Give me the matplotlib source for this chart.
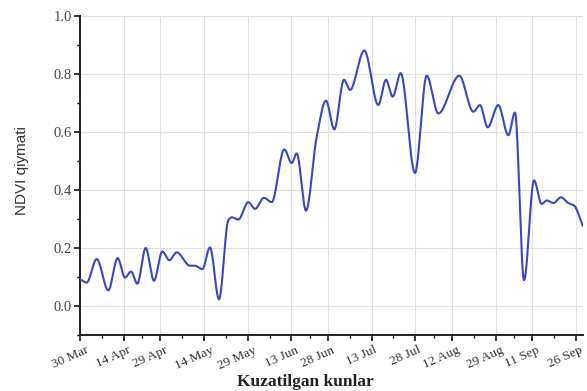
import numpy as np
import matplotlib
matplotlib.use("Agg")
import matplotlib.pyplot as plt
import matplotlib.transforms as mtransforms
from matplotlib.ticker import FixedLocator

obs_pos = [0.0, 0.92, 2.29, 3.88, 5.17, 6.17, 7.0, 7.86, 9.01, 10.15,
           11.29, 12.25, 13.26, 15.09, 15.77, 16.78, 17.83, 19.07, 20.34, 20.81,
           21.71, 23.09, 24.01, 25.24, 26.3, 28.02, 29.04, 29.73, 31.0, 32.47,
           33.74, 34.88, 36.21, 37.04, 39.0, 40.92, 41.98, 42.89, 43.99, 45.95,
           47.56, 49.15, 52.03, 53.95, 54.87, 55.93, 57.38, 58.75, 59.67, 60.91,
           62.28, 63.33, 64.01, 64.93, 65.98, 66.98, 67.76, 68.96]
ndvi = [0.092, 0.081, 0.162, 0.054, 0.165, 0.098, 0.119, 0.077, 0.200, 0.087,
        0.188, 0.158, 0.185, 0.139, 0.139, 0.127, 0.202, 0.023, 0.295, 0.306,
        0.298, 0.358, 0.335, 0.373, 0.358, 0.540, 0.493, 0.526, 0.329, 0.583,
        0.708, 0.609, 0.780, 0.745, 0.881, 0.693, 0.780, 0.722, 0.803, 0.459,
        0.794, 0.664, 0.794, 0.670, 0.693, 0.616, 0.693, 0.589, 0.667, 0.089,
        0.433, 0.352, 0.364, 0.355, 0.375, 0.355, 0.347, 0.277]

tick_pos = [0, 6, 11, 17, 23, 29, 34, 40, 46, 51, 57, 62, 68]
tick_labels = ["30 Mar", "14 Apr", "29 Apr", "14 May", "29 May", "13 Jun",
               "28 Jun", "13 Jul", "28 Jul", "12 Aug", "29 Aug", "11 Sep", "26 Sep"]


def pchip_line(x, y, n=1500):
    # smooth "spline connect" drawing of the points, no overshoot
    x = np.asarray(x, float)
    y = np.asarray(y, float)
    h = np.diff(x)
    d = np.diff(y) / h
    m = np.zeros_like(y)
    for k in range(1, len(y) - 1):
        if d[k - 1] * d[k] > 0:
            w1 = 2 * h[k] + h[k - 1]
            w2 = h[k] + 2 * h[k - 1]
            m[k] = (w1 + w2) / (w1 / d[k - 1] + w2 / d[k])
    m[0] = d[0]
    m[-1] = d[-1]
    xs = np.linspace(x[0], x[-1], n)
    idx = np.clip(np.searchsorted(x, xs) - 1, 0, len(h) - 1)
    t = (xs - x[idx]) / h[idx]
    h00 = 2 * t**3 - 3 * t**2 + 1
    h10 = t**3 - 2 * t**2 + t
    h01 = -2 * t**3 + 3 * t**2
    h11 = t**3 - t**2
    ys = h00 * y[idx] + h10 * h[idx] * m[idx] + h01 * y[idx + 1] + h11 * h[idx] * m[idx + 1]
    return xs, ys


plt.rcParams["font.family"] = "Liberation Serif"

fig = plt.figure(figsize=(5.87, 3.91), dpi=100)
ax = fig.add_axes([80 / 587, 1 - 335 / 391, 503 / 587, 319 / 391])

xs, ys = pchip_line(obs_pos, ndvi)
ax.plot(xs, ys, color="#3a48c0", lw=1.5, zorder=3)

ax.set_xlim(0, 69)
ax.set_ylim(-0.1, 1.0)

ax.xaxis.set_major_locator(FixedLocator(tick_pos))
ax.xaxis.set_minor_locator(FixedLocator([(a + b) / 2 for a, b in zip(tick_pos[:-1], tick_pos[1:])]))
ax.set_xticklabels([])
# rotated date labels, sitting a bit left of their ticks like the original
trans = ax.get_xaxis_transform() + mtransforms.ScaledTranslation(-10 / 100, -9 / 100, fig.dpi_scale_trans)
for p, lab in zip(tick_pos, tick_labels):
    ax.text(p, 0, lab, transform=trans, rotation=24, ha="center", va="top",
            fontsize=9.5, color="#333333")

ax.set_yticks([0.0, 0.2, 0.4, 0.6, 0.8, 1.0])
ax.set_yticks(np.arange(-0.1, 1.0, 0.2), minor=True)
ax.set_yticklabels(["0.0", "0.2", "0.4", "0.6", "0.8", "1.0"], fontsize=10.5, color="#444444")

ax.grid(True, which="major", color="#e0e0e0", lw=0.8, zorder=0)
for s in ["top", "right"]:
    ax.spines[s].set_visible(False)
for s in ["left", "bottom"]:
    ax.spines[s].set_linewidth(1.4)
    ax.spines[s].set_color("#222222")
ax.tick_params(which="major", direction="out", length=4, width=1.1, pad=2)
ax.tick_params(which="minor", direction="out", length=2.5, width=1.0)

ax.set_ylabel("NDVI qiymati", family="Liberation Sans", fontsize=11, color="#333333", va="center")
ax.yaxis.set_label_coords(-0.115, 0.514)
ax.set_xlabel("Kuzatilgan kunlar", fontsize=12.5, fontweight="bold", color="#222222", va="center")
ax.xaxis.set_label_coords(0.447, -0.148)

fig.savefig("out.png", dpi=100)
